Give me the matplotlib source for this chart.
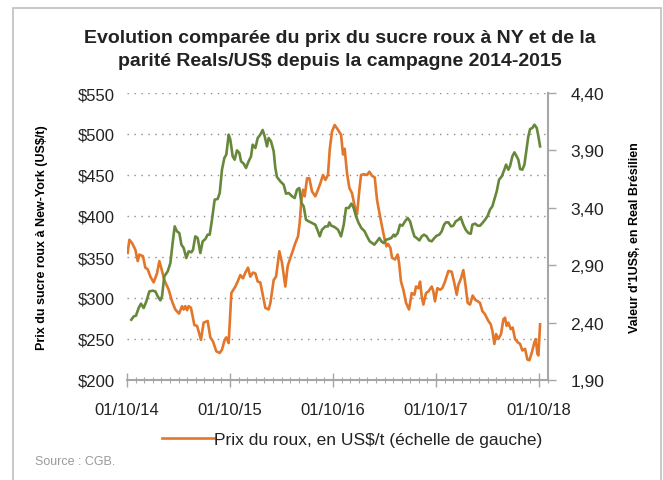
import matplotlib
matplotlib.use("Agg")
import matplotlib.pyplot as plt
from matplotlib.patches import Rectangle
from matplotlib.lines import Line2D
import numpy as np

plt.rcParams['font.family'] = ['Liberation Sans', 'DejaVu Sans']

# sugar price (US$/t), x in decimal years
roux_t = [2014.756, 2014.773, 2014.799, 2014.831, 2014.854, 2014.870, 2014.905, 2014.928, 2014.951, 2014.977,
          2015.009, 2015.041, 2015.064, 2015.090, 2015.112, 2015.155, 2015.187, 2015.219, 2015.255, 2015.284,
          2015.300, 2015.316, 2015.333, 2015.349, 2015.371, 2015.404, 2015.430, 2015.468, 2015.494, 2015.533,
          2015.559, 2015.585, 2015.617, 2015.650, 2015.672, 2015.698, 2015.714, 2015.737, 2015.763, 2015.802,
          2015.824, 2015.850, 2015.876, 2015.899, 2015.925, 2015.947, 2015.973, 2015.996, 2016.019, 2016.044,
          2016.093, 2016.125, 2016.142, 2016.174, 2016.197, 2016.229, 2016.255, 2016.287, 2016.310, 2016.336,
          2016.358, 2016.384, 2016.410, 2016.426, 2016.443, 2016.459, 2016.475, 2016.498, 2016.520, 2016.546,
          2016.578, 2016.604, 2016.627, 2016.653, 2016.676, 2016.701, 2016.718, 2016.740, 2016.766, 2016.799,
          2016.828, 2016.847, 2016.863, 2016.886, 2016.909, 2016.934, 2016.960, 2016.983, 2017.006, 2017.022,
          2017.048, 2017.080, 2017.103, 2017.129, 2017.155, 2017.177, 2017.200, 2017.226, 2017.252, 2017.268,
          2017.284, 2017.307, 2017.323, 2017.352, 2017.378, 2017.391, 2017.410, 2017.433, 2017.459, 2017.488,
          2017.514, 2017.540, 2017.556, 2017.578, 2017.595, 2017.611, 2017.627, 2017.653, 2017.676, 2017.708,
          2017.724, 2017.740, 2017.763, 2017.789, 2017.811, 2017.837, 2017.870, 2017.902, 2017.928, 2017.951,
          2017.967, 2017.993, 2018.015, 2018.038, 2018.057, 2018.080, 2018.106, 2018.129, 2018.155, 2018.177,
          2018.200, 2018.226, 2018.258, 2018.281, 2018.297, 2018.316, 2018.333, 2018.355, 2018.381, 2018.404,
          2018.420, 2018.436, 2018.452, 2018.475, 2018.494, 2018.517, 2018.543, 2018.566, 2018.588, 2018.614,
          2018.637, 2018.656, 2018.679, 2018.705, 2018.718, 2018.734, 2018.744, 2018.760]
roux_px = [355, 371, 367, 359, 345, 353, 351, 337, 335, 326,
           319, 330, 345, 333, 322, 310, 296, 286, 281, 290,
           286, 290, 285, 290, 288, 267, 266, 249, 270, 272,
           252, 247, 235, 233, 237, 249, 252, 245, 306, 314,
           320, 328, 324, 331, 337, 326, 331, 330, 320, 319,
           288, 286, 294, 322, 326, 357, 343, 314, 339, 349,
           357, 367, 375, 391, 420, 432, 424, 446, 446, 430,
           424, 432, 440, 450, 444, 450, 481, 503, 511, 505,
           499, 475, 482, 452, 434, 428, 412, 402, 432, 450,
           451, 450, 454, 449, 447, 420, 404, 387, 371, 363,
           366, 361, 349, 347, 353, 343, 320, 310, 294, 286,
           306, 304, 314, 312, 320, 302, 292, 306, 308, 314,
           308, 296, 312, 310, 312, 320, 333, 332, 318, 304,
           316, 324, 334, 314, 294, 292, 303, 298, 296, 294,
           284, 280, 272, 268, 260, 244, 256, 250, 256, 274,
           276, 266, 270, 262, 264, 250, 246, 244, 236, 238,
           225, 224, 233, 246, 250, 232, 230, 268]

# BRL per USD
real_t = [2014.792, 2014.815, 2014.837, 2014.863, 2014.886, 2014.912, 2014.938, 2014.967, 2014.999, 2015.025,
          2015.048, 2015.074, 2015.090, 2015.112, 2015.145, 2015.171, 2015.193, 2015.213, 2015.235, 2015.258,
          2015.278, 2015.300, 2015.326, 2015.349, 2015.375, 2015.391, 2015.413, 2015.436, 2015.462, 2015.485,
          2015.511, 2015.533, 2015.553, 2015.575, 2015.601, 2015.630, 2015.650, 2015.672, 2015.695, 2015.714,
          2015.737, 2015.753, 2015.776, 2015.795, 2015.818, 2015.841, 2015.857, 2015.883, 2015.905, 2015.931,
          2015.954, 2015.970, 2015.996, 2016.019, 2016.044, 2016.067, 2016.087, 2016.109, 2016.125, 2016.148,
          2016.174, 2016.190, 2016.206, 2016.239, 2016.271, 2016.294, 2016.320, 2016.352, 2016.378, 2016.400,
          2016.423, 2016.443, 2016.465, 2016.488, 2016.514, 2016.546, 2016.578, 2016.604, 2016.621, 2016.643,
          2016.676, 2016.701, 2016.714, 2016.734, 2016.766, 2016.799, 2016.828, 2016.854, 2016.876, 2016.902,
          2016.928, 2016.951, 2016.973, 2016.999, 2017.025, 2017.057, 2017.080, 2017.106, 2017.129, 2017.151,
          2017.177, 2017.200, 2017.219, 2017.242, 2017.265, 2017.290, 2017.316, 2017.339, 2017.352, 2017.378,
          2017.400, 2017.423, 2017.449, 2017.475, 2017.498, 2017.520, 2017.540, 2017.562, 2017.588, 2017.611,
          2017.633, 2017.659, 2017.682, 2017.708, 2017.734, 2017.756, 2017.782, 2017.805, 2017.828, 2017.847,
          2017.870, 2017.896, 2017.918, 2017.941, 2017.967, 2017.989, 2018.015, 2018.038, 2018.064, 2018.087,
          2018.103, 2018.129, 2018.155, 2018.177, 2018.200, 2018.226, 2018.252, 2018.274, 2018.297, 2018.316,
          2018.339, 2018.362, 2018.388, 2018.413, 2018.430, 2018.452, 2018.468, 2018.491, 2018.511, 2018.533,
          2018.549, 2018.566, 2018.588, 2018.608, 2018.624, 2018.646, 2018.663, 2018.685, 2018.705, 2018.728,
          2018.744, 2018.760]
real_val = [2.425, 2.454, 2.46, 2.527, 2.565, 2.527, 2.585, 2.672, 2.678, 2.672,
            2.629, 2.594, 2.629, 2.803, 2.846, 2.919, 3.093, 3.238, 3.195, 3.18,
            3.079, 3.05, 2.963, 3.021, 3.012, 3.035, 3.151, 3.137, 3.006, 3.108,
            3.128, 3.166, 3.166, 3.296, 3.471, 3.477, 3.529, 3.732, 3.834, 3.863,
            4.037, 3.993, 3.848, 3.819, 3.90, 3.877, 3.805, 3.784, 3.747, 3.805,
            3.848, 3.95, 3.921, 4.008, 4.037, 4.078, 4.022, 3.935, 4.008, 3.979,
            3.892, 3.747, 3.668, 3.63, 3.601, 3.523, 3.529, 3.50, 3.485, 3.558,
            3.572, 3.442, 3.413, 3.296, 3.282, 3.267, 3.253, 3.195, 3.151, 3.209,
            3.238, 3.238, 3.273, 3.244, 3.232, 3.209, 3.151, 3.253, 3.398, 3.398,
            3.436, 3.398, 3.326, 3.267, 3.224, 3.195, 3.151, 3.108, 3.093, 3.079,
            3.108, 3.137, 3.108, 3.093, 3.122, 3.128, 3.137, 3.166, 3.151, 3.18,
            3.253, 3.244, 3.282, 3.311, 3.282, 3.209, 3.151, 3.137, 3.116, 3.151,
            3.166, 3.151, 3.116, 3.108, 3.137, 3.157, 3.166, 3.195, 3.253, 3.273,
            3.273, 3.238, 3.244, 3.282, 3.296, 3.317, 3.253, 3.209, 3.18, 3.174,
            3.253, 3.262, 3.244, 3.244, 3.267, 3.296, 3.331, 3.384, 3.413, 3.471,
            3.543, 3.645, 3.674, 3.732, 3.776, 3.732, 3.761, 3.848, 3.883, 3.848,
            3.819, 3.738, 3.732, 3.776, 3.877, 4.022, 4.086, 4.095, 4.124, 4.095,
            4.022, 3.935]

x_ticks = [2014.75, 2015.75, 2016.75, 2017.75, 2018.75]
x_labels = ['01/10/14', '01/10/15', '01/10/16', '01/10/17', '01/10/18']
left_ticks = [200, 250, 300, 350, 400, 450, 500, 550]
right_ticks = [1.90, 2.40, 2.90, 3.40, 3.90, 4.40]

ORANGE = '#E2762A'
GREEN = '#67883A'
AXIS_GRAY = '#A6A6A6'

fig = plt.figure(figsize=(6.63, 4.81), dpi=100)
ax = fig.add_axes([127/663, 1 - 381/481, (548 - 127)/663, (381 - 94)/481])
ax2 = ax.twinx()

ax.plot(roux_t, roux_px, color=ORANGE, lw=1.9, solid_joinstyle='round')
ax2.plot(real_t, real_val, color=GREEN, lw=1.9, solid_joinstyle='round')

ax.set_xlim(2014.75, 2018.837)
ax.set_ylim(200, 550)
ax2.set_ylim(1.90, 4.40)

# gridlines
for v in left_ticks[1:]:
    ax.axhline(v, color='#8C8C8C', lw=1.0, ls=(0, (1, 4)), zorder=0)

ax.set_yticks(left_ticks)
ax.set_yticklabels(['$%d' % v for v in left_ticks], fontsize=12)
ax.tick_params(axis='y', length=0, pad=9, colors='#222222')

ax.set_xticks(x_ticks)
ax.set_xticklabels(x_labels, fontsize=12)
ax.set_xticks(np.arange(2014.75, 2018.84, 1/12), minor=True)
ax.tick_params(axis='x', which='major', direction='inout', length=10, width=1, color=AXIS_GRAY, pad=11, labelcolor='#222222')
ax.tick_params(axis='x', which='minor', direction='inout', length=5, width=0.8, color=AXIS_GRAY)

ax2.set_yticks(right_ticks)
ax2.yaxis.set_major_formatter(plt.FuncFormatter(lambda v, p: ('%.2f' % v).replace('.', ',')))
ax2.tick_params(axis='y', direction='out', length=6, width=1, color=AXIS_GRAY, pad=10, labelsize=12.5, labelcolor='#222222')

for a in (ax, ax2):
    for s in ('top', 'left', 'right', 'bottom'):
        a.spines[s].set_visible(False)
ax2.spines['right'].set_visible(True)
ax2.spines['right'].set_color(AXIS_GRAY)
ax2.spines['right'].set_linewidth(1.5)
ax.spines['bottom'].set_visible(True)
ax.spines['bottom'].set_color(AXIS_GRAY)
ax.spines['bottom'].set_linewidth(1.5)

ax.set_ylabel('Prix du sucre roux à New-York (US$/t)', fontsize=9, fontweight='bold', labelpad=21)
ax2.set_ylabel("Valeur d'1US$, en Real Brésilien", fontsize=9, fontweight='bold', labelpad=18)

fig.text(340/663, 1 - 50/481, 'Evolution comparée du prix du sucre roux à NY et de la\nparité Reals/US$ depuis la campagne 2014-2015',
         ha='center', va='center', fontsize=14, fontweight='bold', linespacing=1.4, color='#222222')

handle = Line2D([], [], color=ORANGE, lw=1.9)
fig.legend([handle], ['Prix du roux, en US$/t (échelle de gauche)'], loc='center',
           bbox_to_anchor=(352/663, 1 - 440/481), frameon=False, fontsize=12.5,
           handlelength=3.0, handletextpad=0.0, labelcolor='#222222')

fig.text(35/663, 1 - 462/481, 'Source : CGB.', fontsize=9, color='#9A9A9A', va='center')

# outer frame
fig.patches.append(Rectangle((13/663, -0.02), (661 - 13)/663, (1 - 9/481) + 0.02,
                             transform=fig.transFigure, fill=False, edgecolor='#BFBFBF', lw=1.2))

fig.savefig('out.png', dpi=100)
